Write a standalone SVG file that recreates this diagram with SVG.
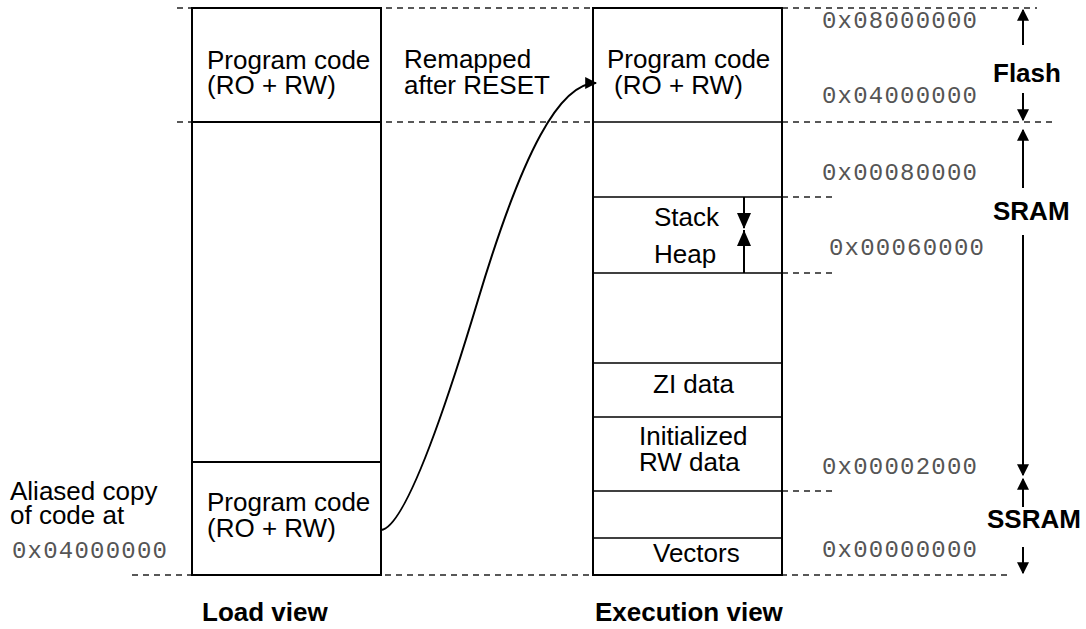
<svg xmlns="http://www.w3.org/2000/svg" width="1086" height="629" viewBox="0 0 1086 629">
<style>
.t{font-family:"Liberation Sans",Arial,sans-serif;font-size:26px;fill:#000}
.b{font-family:"Liberation Sans",Arial,sans-serif;font-size:26px;font-weight:bold;fill:#000}
.m{font-family:"Liberation Mono","Courier New",monospace;font-size:24px;fill:#555}
.box{fill:#fff;stroke:#000;stroke-width:2}
.div{stroke:#000;stroke-width:1.5;fill:none}
.dash{stroke:#222;stroke-width:1.3;stroke-dasharray:6,5;fill:none}
.ln{stroke:#000;stroke-width:2;fill:none}
</style>
<defs>
<marker id="ah" viewBox="0 0 10 10" refX="9" refY="5" markerWidth="12" markerHeight="12" markerUnits="userSpaceOnUse" orient="auto"><path d="M0,0 L10,5 L0,10 z" fill="#000"/></marker>
</defs>
<g id="guides">
<line class="dash" x1="177" y1="8" x2="1037" y2="8"/>
<line class="dash" x1="177" y1="122" x2="1053" y2="122"/>
<line class="dash" x1="132" y1="575" x2="1008" y2="575"/>
<line class="dash" x1="782" y1="197" x2="834" y2="197"/>
<line class="dash" x1="782" y1="273" x2="834" y2="273"/>
<line class="dash" x1="782" y1="491" x2="834" y2="491"/>
</g>
<g id="load-view">
<rect class="box" x="192" y="8" width="189" height="567"/>
<line class="ln" x1="192" y1="122" x2="381" y2="122"/>
<line class="ln" x1="192" y1="462" x2="381" y2="462"/>
<text class="t" x="207" y="69">Program code</text>
<text class="t" x="207" y="94">(RO + RW)</text>
<text class="t" x="207" y="511">Program code</text>
<text class="t" x="207" y="537">(RO + RW)</text>
</g>
<g id="execution-view">
<rect class="box" x="593" y="8" width="189" height="567"/>
<line class="div" x1="593" y1="122" x2="782" y2="122"/>
<line class="div" x1="593" y1="197" x2="782" y2="197"/>
<line class="div" x1="593" y1="273" x2="782" y2="273"/>
<line class="div" x1="593" y1="363" x2="782" y2="363"/>
<line class="div" x1="593" y1="417" x2="782" y2="417"/>
<line class="div" x1="593" y1="491" x2="782" y2="491"/>
<line class="div" x1="593" y1="538" x2="782" y2="538"/>
<text class="t" x="607" y="68">Program code</text>
<text class="t" x="614" y="94">(RO + RW)</text>
<text class="t" x="654" y="226">Stack</text>
<text class="t" x="654" y="263">Heap</text>
<text class="t" x="653" y="393">ZI data</text>
<text class="t" x="639" y="445">Initialized</text>
<text class="t" x="639" y="471">RW data</text>
<text class="t" x="653" y="562">Vectors</text>
</g>
<g id="stack-heap-arrows">
<line class="ln" x1="744" y1="197" x2="744" y2="228"/>
<path d="M737,213 L751,213 L744,229 z" fill="#000"/>
<line class="ln" x1="744" y1="230" x2="744" y2="273"/>
<path d="M737,246 L751,246 L744,230 z" fill="#000"/>
</g>
<g id="labels">
<text class="t" x="404" y="68">Remapped</text>
<text class="t" x="404" y="94">after RESET</text>
<text class="t" x="10" y="500">Aliased copy</text>
<text class="t" x="10" y="524">of code at</text>
<text class="m" x="12" y="558" textLength="155" lengthAdjust="spacing">0x04000000</text>
<text class="b" x="202" y="621">Load view</text>
<text class="b" x="595" y="621">Execution view</text>
</g>
<g id="addresses">
<text class="m" x="822" y="28" textLength="155" lengthAdjust="spacing">0x08000000</text>
<text class="m" x="822" y="103" textLength="155" lengthAdjust="spacing">0x04000000</text>
<text class="m" x="822" y="180" textLength="155" lengthAdjust="spacing">0x00080000</text>
<text class="m" x="829" y="255" textLength="155" lengthAdjust="spacing">0x00060000</text>
<text class="m" x="822" y="474" textLength="155" lengthAdjust="spacing">0x00002000</text>
<text class="m" x="822" y="557" textLength="155" lengthAdjust="spacing">0x00000000</text>
</g>
<g id="regions">
<text class="b" x="993" y="82">Flash</text>
<text class="b" x="993" y="220">SRAM</text>
<text class="b" x="987" y="528">SSRAM</text>
</g>
<g id="connectors">
<path class="ln" d="M381,530 C405,528 445,410 478,300 C523,150 560,83 596,83" marker-end="url(#ah)"/>
<line class="ln" x1="1023" y1="45" x2="1023" y2="10" marker-end="url(#ah)"/>
<line class="ln" x1="1023" y1="93" x2="1023" y2="120" marker-end="url(#ah)"/>
<line class="ln" x1="1023" y1="188" x2="1023" y2="130" marker-end="url(#ah)"/>
<line class="ln" x1="1023" y1="235" x2="1023" y2="475" marker-end="url(#ah)"/>
<line class="ln" x1="1023" y1="507" x2="1023" y2="479" marker-end="url(#ah)"/>
<line class="ln" x1="1023" y1="547" x2="1023" y2="573" marker-end="url(#ah)"/>
</g>
</svg>
